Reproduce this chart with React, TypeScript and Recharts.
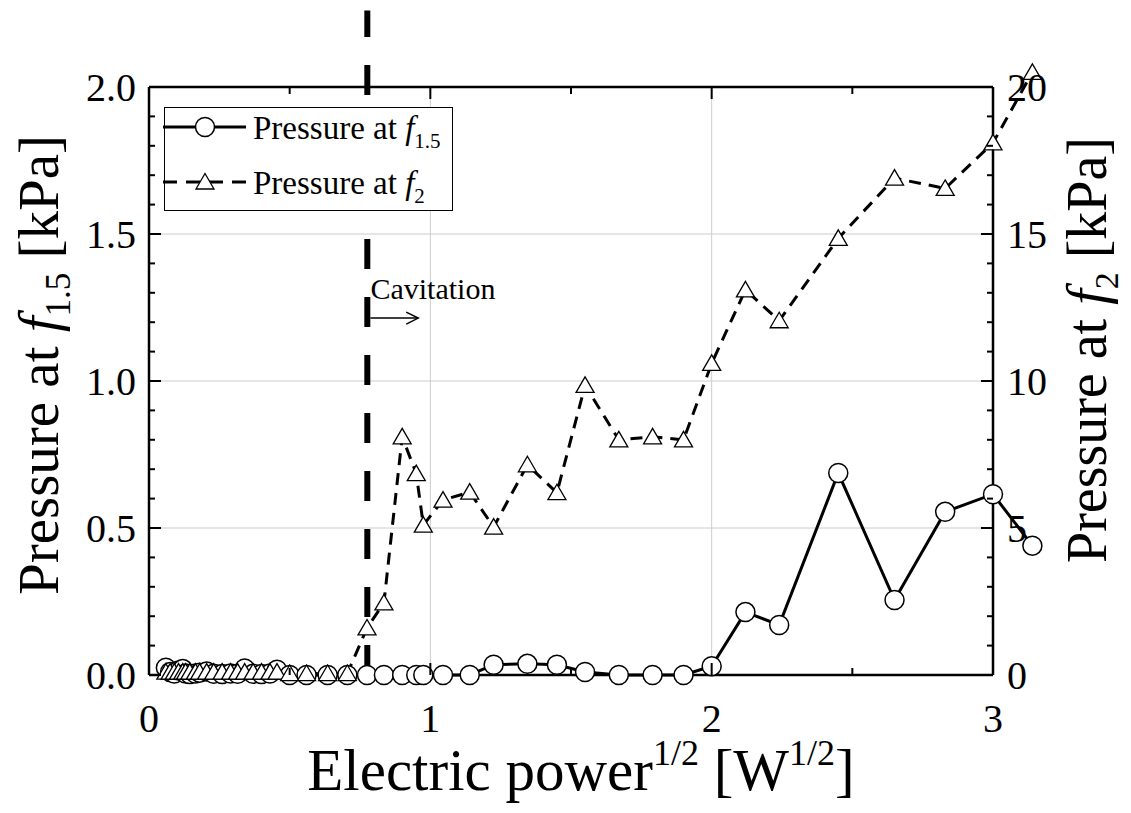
import React from 'react';
import { ComposedChart, Line, XAxis, YAxis, CartesianGrid, ReferenceLine, Legend } from 'recharts';

const FONT = 'Liberation Serif, Tinos, Times New Roman, Times, serif';

// electric power^1/2 [W^1/2]
const power = [
  0.06, 0.075, 0.09, 0.105, 0.12, 0.13, 0.145, 0.165, 0.18, 0.205,
  0.23, 0.26, 0.29, 0.315, 0.34, 0.37, 0.4, 0.43, 0.455, 0.5,
  0.56, 0.635, 0.705, 0.775, 0.835, 0.9, 0.95, 0.975, 1.045, 1.14,
  1.225, 1.345, 1.45, 1.55, 1.67, 1.79, 1.9, 2.0, 2.12, 2.24,
  2.45, 2.65, 2.83, 3.0, 3.14,
];
// pressure at f1.5 [kPa] (left axis)
const pressureF15 = [
  0.025, 0.01, 0.005, 0.015, 0.02, 0.005, 0.003, 0.005, 0.008, 0.012,
  0.004, 0.003, 0.005, 0.004, 0.022, 0.004, 0.003, 0.005, 0.018, 0.0,
  0.0, 0.0, 0.0, 0.0, 0.0, 0.0, 0.0, 0.0, 0.0, 0.0,
  0.035, 0.038, 0.035, 0.01, 0.0, 0.0, 0.0, 0.03, 0.214, 0.17,
  0.687, 0.255, 0.555, 0.615, 0.44,
];
// pressure at f2 [kPa] (right axis)
const pressureF2 = [
  0.1, 0.1, 0.1, 0.1, 0.1, 0.1, 0.1, 0.1, 0.1, 0.1,
  0.1, 0.1, 0.1, 0.1, 0.1, 0.1, 0.1, 0.1, 0.1, 0.05,
  0.05, 0.05, 0.05, 1.6, 2.45, 8.1, 6.85, 5.1, 5.95, 6.22,
  5.03, 7.15, 6.2, 9.85, 8.0, 8.1, 8.0, 10.6, 13.1, 12.05,
  14.85, 16.9, 16.55, 18.1, 20.5,
];

const xTicks = [0, 0.5, 1, 1.5, 2, 2.5, 3];
const xGridTicks = [0, 1, 2, 3];
const leftTicks = [0, 0.1, 0.2, 0.3, 0.4, 0.5, 0.6, 0.7, 0.8, 0.9, 1, 1.1, 1.2, 1.3, 1.4, 1.5, 1.6, 1.7, 1.8, 1.9, 2];
const leftGridTicks = [0, 0.5, 1, 1.5, 2];
const rightTicks = [0, 1, 2, 3, 4, 5, 6, 7, 8, 9, 10, 11, 12, 13, 14, 15, 16, 17, 18, 19, 20];
const cavitationX = 0.776;

const data = power.map((x, i) => ({ x, p15: pressureF15[i], p2: pressureF2[i] }));

const isMajor = (v: number, step: number) => Math.abs(v / step - Math.round(v / step)) < 1e-6;

const BottomTick = (props: any) => {
  const { x, y, payload } = props;
  const major = isMajor(payload.value, 1);
  return (
    <g>
      <line x1={x} y1={y} x2={x} y2={y - (major ? 12 : 7)} stroke="#000" strokeWidth={2} />
      {major && (
        <text x={x} y={y + 57} textAnchor="middle" fontSize={40} fontFamily={FONT} fill="#000">
          {payload.value}
        </text>
      )}
    </g>
  );
};

const TopTick = (props: any) => {
  const { x, y, payload } = props;
  const major = isMajor(payload.value, 1);
  return <line x1={x} y1={y} x2={x} y2={y + (major ? 12 : 7)} stroke="#000" strokeWidth={2} />;
};

const LeftTick = (props: any) => {
  const { x, y, payload } = props;
  const major = isMajor(payload.value, 0.5);
  return (
    <g>
      <line x1={x} y1={y} x2={x + (major ? 12 : 6)} y2={y} stroke="#000" strokeWidth={2} />
      {major && (
        <text x={x - 13} y={y + 14} textAnchor="end" fontSize={40} fontFamily={FONT} fill="#000">
          {payload.value.toFixed(1)}
        </text>
      )}
    </g>
  );
};

const RightTick = (props: any) => {
  const { x, y, payload } = props;
  const major = isMajor(payload.value, 5);
  return (
    <g>
      <line x1={x} y1={y} x2={x - (major ? 12 : 6)} y2={y} stroke="#000" strokeWidth={2} />
      {major && (
        <text x={x + 14} y={y + 14} textAnchor="start" fontSize={40} fontFamily={FONT} fill="#000">
          {payload.value}
        </text>
      )}
    </g>
  );
};

const CircleDot = (props: any) => {
  const { cx, cy } = props;
  if (cx == null || cy == null) return <g />;
  return <circle cx={cx} cy={cy} r={9.5} fill="#fff" stroke="#000" strokeWidth={1.5} />;
};

const TriangleDot = (props: any) => {
  const { cx, cy } = props;
  if (cx == null || cy == null) return <g />;
  return (
    <path
      d={`M${cx},${cy - 8.5} L${cx + 9},${cy + 7} L${cx - 9},${cy + 7} Z`}
      fill="#fff"
      stroke="#000"
      strokeWidth={1.3}
    />
  );
};

const bottomTitle = (props: any) => {
  const vb = props.viewBox;
  return (
    <text x={vb.x + vb.width / 2 + 10} y={vb.y + 115} textAnchor="middle" fontSize={59} fontFamily={FONT} fill="#000">
      Electric power
      <tspan fontSize={36} dy={-25}>1/2</tspan>
      <tspan dy={25}> [W</tspan>
      <tspan fontSize={36} dy={-25}>1/2</tspan>
      <tspan dy={25}>]</tspan>
    </text>
  );
};

const leftTitle = (props: any) => {
  const vb = props.viewBox;
  const cx = vb.x + 9;
  const cy = vb.y + vb.height / 2 - 16;
  return (
    <text x={cx} y={cy} transform={`rotate(-90, ${cx}, ${cy})`} textAnchor="middle" fontSize={57} fontFamily={FONT} fill="#000">
      Pressure at <tspan fontStyle="italic">f</tspan>
      <tspan fontSize={35} dy={12}>1.5</tspan>
      <tspan dy={-12}> [kPa]</tspan>
    </text>
  );
};

const rightTitle = (props: any) => {
  const vb = props.viewBox;
  const cx = vb.x + 113;
  const cy = vb.y + 263;
  return (
    <text x={cx} y={cy} transform={`rotate(-90, ${cx}, ${cy})`} textAnchor="middle" fontSize={56} fontFamily={FONT} fill="#000">
      Pressure at <tspan fontStyle="italic">f</tspan>
      <tspan fontSize={34} dy={12}>2</tspan>
      <tspan dy={-12}> [kPa]</tspan>
    </text>
  );
};

const CavitationArrow = (props: any) => {
  const { x1, y1, x2, y2 } = props;
  return (
    <g>
      <text x={x1} y={y1 - 19} fontSize={30} fontFamily={FONT} fill="#000">Cavitation</text>
      <line x1={x1} y1={y1} x2={x2} y2={y2} stroke="#000" strokeWidth={1.5} />
      <polyline points={`${x2 - 12},${y2 - 6} ${x2},${y2} ${x2 - 12},${y2 + 6}`} fill="none" stroke="#000" strokeWidth={1.5} />
    </g>
  );
};

const renderLegend = () => (
  <div style={{ width: 289, height: 104, border: '1px solid #000', background: '#fff', boxSizing: 'border-box' }}>
    <svg width={287} height={102} style={{ display: 'block', overflow: 'visible' }}>
      <line x1={-2} y1={19} x2={81} y2={19} stroke="#000" strokeWidth={3} />
      <circle cx={40} cy={19} r={9.5} fill="#fff" stroke="#000" strokeWidth={1.5} />
      <text x={88} y={31} fontSize={33} fontFamily={FONT} fill="#000">
        Pressure at <tspan fontStyle="italic">f</tspan>
        <tspan fontSize={21} dy={9}>1.5</tspan>
      </text>
      <line x1={-2} y1={74} x2={81} y2={74} stroke="#000" strokeWidth={3} strokeDasharray="14 9" />
      <path d="M40,65.5 L49,81 L31,81 Z" fill="#fff" stroke="#000" strokeWidth={1.3} />
      <text x={88} y={86} fontSize={33} fontFamily={FONT} fill="#000">
        Pressure at <tspan fontStyle="italic">f</tspan>
        <tspan fontSize={21} dy={9}>2</tspan>
      </text>
    </svg>
  </div>
);

export default function App() {
  return (
    <div style={{ position: 'relative', margin: -8, width: 1131, height: 813, fontFamily: FONT, background: '#fff' }}>
      <style>{`.pchart .recharts-line-curve, .pchart .recharts-line-dots, .pchart .recharts-line [clip-path] { clip-path: none !important; }`}</style>
      <ComposedChart
        className="pchart"
        width={1131}
        height={813}
        data={data}
        margin={{ top: 57, right: 38, bottom: 38, left: 49 }}
      >
        <XAxis xAxisId="gx" type="number" dataKey="x" domain={[0, 3]} ticks={xGridTicks} allowDataOverflow hide height={0} />
        <YAxis yAxisId="gy" type="number" domain={[0, 2]} ticks={leftGridTicks} allowDataOverflow hide width={0} />
        <CartesianGrid xAxisId="gx" yAxisId="gy" stroke="#cccccc" strokeWidth={1} />
        <XAxis
          xAxisId="x"
          type="number"
          dataKey="x"
          domain={[0, 3]}
          ticks={xTicks}
          interval={0}
          allowDataOverflow
          height={100}
          tickSize={0}
          tickMargin={0}
          tickLine={false}
          axisLine={{ stroke: '#000', strokeWidth: 2.5 }}
          tick={BottomTick}
          label={bottomTitle}
        />
        <XAxis
          xAxisId="top"
          orientation="top"
          type="number"
          dataKey="x"
          domain={[0, 3]}
          ticks={xTicks}
          interval={0}
          allowDataOverflow
          height={30}
          tickSize={0}
          tickMargin={0}
          tickLine={false}
          axisLine={{ stroke: '#000', strokeWidth: 2.5 }}
          tick={TopTick}
        />
        <YAxis
          yAxisId="left"
          type="number"
          domain={[0, 2]}
          ticks={leftTicks}
          interval={0}
          allowDataOverflow
          width={100}
          tickSize={0}
          tickMargin={0}
          tickLine={false}
          axisLine={{ stroke: '#000', strokeWidth: 2.5 }}
          tick={LeftTick}
          label={leftTitle}
        />
        <YAxis
          yAxisId="right"
          orientation="right"
          type="number"
          domain={[0, 20]}
          ticks={rightTicks}
          interval={0}
          allowDataOverflow
          width={100}
          tickSize={0}
          tickMargin={0}
          tickLine={false}
          axisLine={{ stroke: '#000', strokeWidth: 2.5 }}
          tick={RightTick}
          label={rightTitle}
        />
        <Line
          xAxisId="x"
          yAxisId="left"
          type="linear"
          dataKey="p15"
          stroke="#000"
          strokeWidth={3}
          dot={CircleDot}
          activeDot={false}
          isAnimationActive={false}
        />
        <Line
          xAxisId="x"
          yAxisId="right"
          type="linear"
          dataKey="p2"
          stroke="#000"
          strokeWidth={3}
          strokeDasharray="12 8"
          dot={TriangleDot}
          activeDot={false}
          isAnimationActive={false}
        />
        <ReferenceLine
          xAxisId="x"
          yAxisId="left"
          segment={[{ x: cavitationX, y: 0 }, { x: cavitationX, y: 2.26 }]}
          stroke="#000"
          strokeWidth={6}
          strokeDasharray="30 28"
          ifOverflow="visible"
        />
        <ReferenceLine
          xAxisId="x"
          yAxisId="left"
          segment={[{ x: 0.787, y: 1.214 }, { x: 0.957, y: 1.214 }]}
          ifOverflow="visible"
          shape={CavitationArrow}
        />
        <Legend
          layout="vertical"
          align="center"
          verticalAlign="middle"
          content={renderLegend}
          wrapperStyle={{ left: 164, top: 107, width: 289, height: 104 }}
        />
      </ComposedChart>
    </div>
  );
}
